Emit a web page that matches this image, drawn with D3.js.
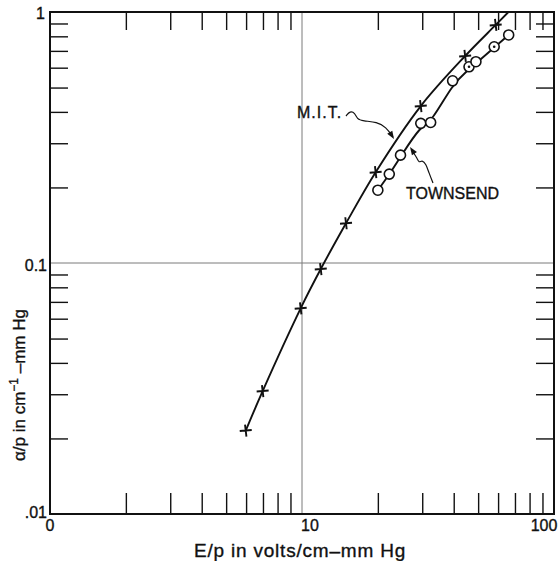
<!DOCTYPE html>
<html><head><meta charset="utf-8">
<script src="https://cdn.jsdelivr.net/npm/d3@7"></script>
<style>body{margin:0;background:#fff} text{stroke:#111;stroke-width:0.35px}</style>
</head><body>
<svg id="chart" width="559" height="561"></svg>
<script>
// Measured ionization coefficient α/p against E/p (log–log)
const mitX = [5.98, 6.98, 9.88, 11.87, 14.95, 19.6, 29.6, 44.4, 58.7];
const mitY = [0.0215, 0.0309, 0.066, 0.0946, 0.144, 0.230, 0.422, 0.668, 0.888];
const townX = [20.0, 22.2, 24.6, 29.6, 32.4, 39.6, 46.0, 49.0, 57.9, 66.1];
const townY = [0.195, 0.226, 0.269, 0.360, 0.363, 0.532, 0.605, 0.634, 0.727, 0.810];
const townDotted = [false, false, false, false, false, false, true, false, true, false];
const xTickValues = [1, 10, 100];
const xTickLabels = ["0", "10", "100"];
const yTickValues = [0.01, 0.1, 1];
const yTickLabels = [".01", "0.1", "1"];

const FONT = "'Liberation Sans', Arial, sans-serif";
const svg = d3.select("#chart");
const L = 50, R = 554, T = 12, B = 514;
const x = d3.scaleLog().domain([1, 100]).range([L, R]);
const y = d3.scaleLog().domain([0.01, 1]).range([B, T]);

// minor ticks 2..9 in every decade
const minorX = [], minorY = [];
[1, 10].forEach(d => { for (let k = 2; k <= 9; k++) minorX.push(k * d); });
[0.01, 0.1].forEach(d => { for (let k = 2; k <= 9; k++) minorY.push(+(k * d).toFixed(3)); });

function tickAxis(gen, vals, len, tr) {
  const g = svg.append("g").attr("transform", tr)
    .call(gen.tickValues(vals).tickSizeInner(-len).tickSizeOuter(0).tickFormat(""));
  g.select(".domain").remove();
  g.selectAll(".tick line").attr("stroke", "#111").attr("stroke-width", 1.4);
}
tickAxis(d3.axisBottom(x), minorX, 21, `translate(0,${B})`);
tickAxis(d3.axisTop(x), minorX, 18, `translate(0,${T})`);
tickAxis(d3.axisLeft(y), minorY, 18, `translate(${L},0)`);
tickAxis(d3.axisRight(y), minorY, 18, `translate(${R},0)`);

// light grid at the inner decades
svg.append("line").attr("x1", x(10)).attr("x2", x(10)).attr("y1", T).attr("y2", B)
  .attr("stroke", "#7a7a7a").attr("stroke-width", 1);
svg.append("line").attr("x1", L).attr("x2", R).attr("y1", y(0.1)).attr("y2", y(0.1))
  .attr("stroke", "#7a7a7a").attr("stroke-width", 1);

// frame
svg.append("rect").attr("x", L).attr("y", T).attr("width", R - L).attr("height", B - T)
  .attr("fill", "none").attr("stroke", "#111").attr("stroke-width", 2);

// tick labels
const xl = svg.append("g").attr("font-family", FONT).attr("font-size", 16).attr("fill", "#111");
xl.selectAll("text").data(xTickValues).join("text")
  .attr("x", (d, i) => x(d) + [0, 8, -10][i])
  .attr("y", 531)
  .attr("text-anchor", "middle")
  .text((d, i) => xTickLabels[i]);
const yl = svg.append("g").attr("font-family", FONT).attr("font-size", 16).attr("fill", "#111");
yl.selectAll("text").data(yTickValues).join("text")
  .attr("x", (d, i) => [47, 47, 45][i])
  .attr("y", (d, i) => y(d) + [4, 8, 7][i])
  .attr("text-anchor", "end")
  .text((d, i) => yTickLabels[i]);

// axis titles
svg.append("text").attr("x", 300).attr("y", 557).attr("text-anchor", "middle")
  .attr("font-family", FONT).attr("font-size", 19).attr("letter-spacing", 0.8).attr("fill", "#111")
  .text("E/p in volts/cm\u2013mm Hg");
const yt = svg.append("text").attr("transform", "translate(25,385) rotate(-90)")
  .attr("text-anchor", "middle").attr("font-family", FONT).attr("font-size", 17).attr("fill", "#111");
yt.append("tspan").text("\u03b1/p in cm");
yt.append("tspan").attr("dy", -7).attr("font-size", 12).text("\u22121");
yt.append("tspan").attr("dy", 7).text(" \u2013mm Hg");

// curves
const mit = mitX.map((v, i) => ({ x: v, y: mitY[i] }));
const town = townX.map((v, i) => ({ x: v, y: townY[i], dot: townDotted[i] }));
// continue the M.I.T. curve along its last slope up to the top of the frame
const a = mit[mit.length - 2], b = mit[mit.length - 1];
const slope = (Math.log10(b.y) - Math.log10(a.y)) / (Math.log10(b.x) - Math.log10(a.x));
const xEnd = Math.pow(10, Math.log10(b.x) + (0 - Math.log10(b.y)) / slope);
const mitCurve = mit.concat([{ x: xEnd, y: 1 }]);

svg.append("path").datum(mitCurve)
  .attr("d", d3.line().x(d => x(d.x)).y(d => y(d.y)).curve(d3.curveCatmullRom.alpha(0.5)))
  .attr("fill", "none").attr("stroke", "#111").attr("stroke-width", 1.9);
svg.append("path").datum(town)
  .attr("d", d3.line().x(d => x(d.x)).y(d => y(d.y)).curve(d3.curveBundle.beta(0.85)))
  .attr("fill", "none").attr("stroke", "#111").attr("stroke-width", 1.9);

// crosses
const cs = 6;
svg.append("g").selectAll("path").data(mit).join("path")
  .attr("d", d => `M${x(d.x) - cs},${y(d.y) + 0.5}L${x(d.x) + cs},${y(d.y) - 0.5}M${x(d.x) - 0.7},${y(d.y) - cs}L${x(d.x) + 0.7},${y(d.y) + cs}`)
  .attr("stroke", "#111").attr("stroke-width", 1.9).attr("fill", "none");

// circles
const cg = svg.append("g");
cg.selectAll("circle").data(town).join("circle")
  .attr("cx", d => x(d.x)).attr("cy", d => y(d.y)).attr("r", 5)
  .attr("fill", "#fff").attr("stroke", "#111").attr("stroke-width", 1.6);
cg.selectAll(".dot").data(town.filter(d => d.dot)).join("circle").attr("class", "dot")
  .attr("cx", d => x(d.x)).attr("cy", d => y(d.y)).attr("r", 1.3).attr("fill", "#111");

// labels with leaders
function arrowHead(p, q) {
  const ang = Math.atan2(q[1] - p[1], q[0] - p[0]);
  const len = 8, w = 3;
  const bx = q[0] - len * Math.cos(ang), by = q[1] - len * Math.sin(ang);
  const nx = -Math.sin(ang) * w, ny = Math.cos(ang) * w;
  svg.append("path").attr("d", `M${q[0]},${q[1]}L${bx + nx},${by + ny}L${bx - nx},${by - ny}Z`).attr("fill", "#111");
}
const leader = d3.line().curve(d3.curveBasis);
svg.append("text").attr("x", 297).attr("y", 118).attr("font-family", FONT).attr("font-size", 16)
  .attr("fill", "#111").attr("letter-spacing", 1).text("M.I.T.");
const mitLead = [[346, 116], [350, 111], [355, 113], [357, 119], [363, 121], [377, 122], [386, 127], [393, 137]];
svg.append("path").attr("d", leader(mitLead)).attr("fill", "none").attr("stroke", "#111").attr("stroke-width", 1.2);
arrowHead([389, 131], [394, 139]);

svg.append("text").attr("x", 406).attr("y", 199).attr("font-family", FONT).attr("font-size", 16)
  .attr("fill", "#111").text("TOWNSEND");
const tLead = [[433, 183], [429, 173], [426, 164], [422, 160], [419, 163], [417, 158], [413, 152]];
svg.append("path").attr("d", leader(tLead)).attr("fill", "none").attr("stroke", "#111").attr("stroke-width", 1.2);
arrowHead([414, 153], [410, 147]);
</script>
</body></html>
